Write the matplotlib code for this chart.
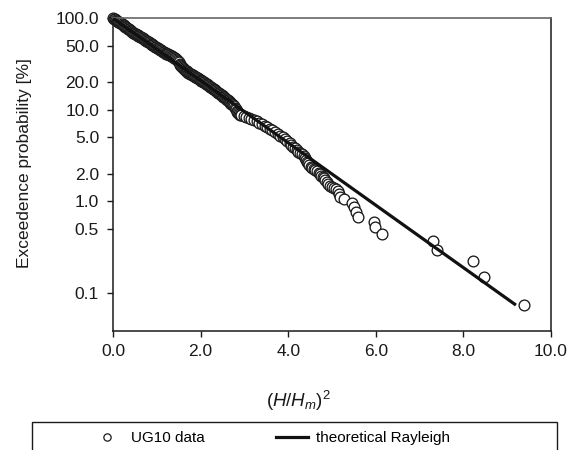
import matplotlib
matplotlib.use("Agg")
import matplotlib.pyplot as plt
from matplotlib.lines import Line2D
from matplotlib.patches import Rectangle

plt.rcParams["font.family"] = ["Liberation Sans", "DejaVu Sans"]
plt.rcParams["mathtext.fontset"] = "custom"
plt.rcParams["mathtext.rm"] = "Liberation Sans"
plt.rcParams["mathtext.it"] = "Liberation Sans:italic"

# Measured wave heights: (H/Hm)^2 against exceedance probability [%]
ug10_x = [
    0.00, 0.02, 0.04, 0.06, 0.08, 0.10, 0.12, 0.14, 0.16, 0.18, 0.20, 0.22,
    0.24, 0.26, 0.28, 0.30, 0.32, 0.34, 0.36, 0.38, 0.40, 0.42, 0.44, 0.46,
    0.48, 0.50, 0.52, 0.54, 0.56, 0.58, 0.60, 0.62, 0.64, 0.66, 0.68, 0.70,
    0.72, 0.74, 0.76, 0.78, 0.80, 0.82, 0.84, 0.86, 0.88, 0.90, 0.92, 0.94,
    0.96, 0.98, 1.00, 1.02, 1.04, 1.06, 1.08, 1.10, 1.12, 1.14, 1.16, 1.18,
    1.20, 1.22, 1.24, 1.26, 1.28, 1.30, 1.32, 1.34, 1.36, 1.38, 1.40,
    1.42, 1.44, 1.46, 1.48, 1.50, 1.52, 1.54, 1.56, 1.58, 1.60, 1.62, 1.64,
    1.66, 1.68, 1.70, 1.72, 1.74, 1.76, 1.78, 1.80, 1.82, 1.84, 1.86, 1.88,
    1.90, 1.92, 1.94, 1.96, 1.98, 2.00, 2.02, 2.04, 2.06, 2.08, 2.10, 2.12,
    2.14, 2.16, 2.18, 2.20, 2.22,
    2.24, 2.26, 2.28, 2.30, 2.32, 2.34, 2.36, 2.38, 2.40, 2.42, 2.44, 2.46,
    2.48, 2.50, 2.52, 2.54, 2.56, 2.58, 2.60, 2.62, 2.64, 2.66, 2.68, 2.70,
    2.72, 2.74, 2.76, 2.78, 2.80, 2.82, 2.84, 2.86, 2.88, 2.90, 2.93,
    2.98, 3.04, 3.10, 3.16, 3.22, 3.28, 3.34, 3.40, 3.46, 3.52, 3.58, 3.64,
    3.70, 3.76, 3.82, 3.88, 3.93, 3.98, 4.03, 4.07, 4.11, 4.15, 4.19, 4.23,
    4.27, 4.31, 4.35, 4.38, 4.40, 4.42, 4.45, 4.48, 4.51, 4.54, 4.58, 4.62,
    4.66, 4.70, 4.73, 4.76, 4.79, 4.82, 4.85, 4.88, 4.92, 4.95, 5.00, 5.05,
    5.09, 5.13, 5.16, 5.19, 5.28, 5.45, 5.50, 5.55, 5.60, 5.96, 5.99, 6.15,
    7.31, 7.40, 8.22, 8.48, 9.39,
]
ug10_p = [
    100.0, 98.3, 96.7, 95.1, 93.5, 92.0, 90.8, 89.6, 88.4, 87.2, 86.0, 84.6,
    83.1, 81.7, 80.4, 79.0, 77.8, 76.6, 75.4, 74.2, 73.0, 71.8, 70.6, 69.4,
    68.2, 67.0, 66.2, 65.4, 64.6, 63.8, 63.0, 62.2, 61.4, 60.6, 59.8, 59.0,
    58.2, 57.4, 56.6, 55.8, 55.0, 54.2, 53.4, 52.6, 51.8, 51.0, 50.2, 49.5,
    48.8, 48.1, 47.5, 46.8, 46.2, 45.5, 44.9, 44.3, 43.7, 43.1, 42.6, 42.0,
    41.5, 41.0, 40.6, 40.1, 39.7, 39.2, 38.8, 38.3, 37.9, 37.4, 37.0,
    36.3, 35.6, 34.8, 33.9, 32.9, 31.9, 31.0, 30.1, 29.3, 28.6, 27.9, 27.3,
    26.7, 26.2, 25.7, 25.3, 24.9, 24.6, 24.3, 24.0, 23.7, 23.4, 23.1, 22.8,
    22.5, 22.2, 21.9, 21.6, 21.3, 21.0, 20.7, 20.4, 20.1, 19.8, 19.5, 19.2,
    18.9, 18.6, 18.4, 18.1, 17.9,
    17.6, 17.3, 17.0, 16.8, 16.5, 16.2, 15.9, 15.7, 15.4, 15.1, 14.8, 14.6,
    14.3, 14.1, 13.8, 13.6, 13.3, 13.1, 12.8, 12.6, 12.3, 12.1, 11.8, 11.6,
    11.4, 11.2, 10.9, 10.5, 10.1, 9.8, 9.5, 9.2, 9.0, 8.85, 8.7,
    8.5, 8.3, 8.15, 8.0, 7.8, 7.5, 7.2, 6.95, 6.7, 6.45, 6.2, 5.95,
    5.7, 5.45, 5.2, 5.0, 4.75, 4.5, 4.3, 4.1, 3.95, 3.8, 3.65, 3.5,
    3.38, 3.25, 3.13, 3.0, 2.85, 2.72, 2.6, 2.5, 2.4, 2.32, 2.25, 2.19,
    2.12, 2.05, 1.98, 1.91, 1.84, 1.78, 1.71, 1.64, 1.56, 1.49, 1.44, 1.40,
    1.35, 1.29, 1.20, 1.13, 1.05, 0.955, 0.86, 0.77, 0.67, 0.60, 0.52, 0.445,
    0.373, 0.295, 0.222, 0.149, 0.074,
]

# Theoretical Rayleigh distribution (straight line on this log scale)
rayleigh_x = [0.0, 9.2]
rayleigh_p = [100.0, 0.074]

x_ticks = [0, 2, 4, 6, 8, 10]
x_tick_labels = ["0.0", "2.0", "4.0", "6.0", "8.0", "10.0"]
y_ticks = [0.1, 0.5, 1, 2, 5, 10, 20, 50, 100]
y_tick_labels = ["0.1", "0.5", "1.0", "2.0", "5.0", "10.0", "20.0", "50.0", "100.0"]

fig = plt.figure(figsize=(5.8, 4.5), dpi=100)
ax = fig.add_axes([113 / 580, 1 - 331 / 450, (551 - 113) / 580, (331 - 18) / 450])

ax.scatter(ug10_x, ug10_p, s=60, facecolors="white", edgecolors="#1a1a1a",
           linewidths=0.95, zorder=2, clip_on=False)
ax.plot(rayleigh_x, rayleigh_p, color="#111111", lw=2.3, zorder=3,
        solid_capstyle="butt")

ax.set_yscale("log")
ax.set_xlim(0, 10)
ax.set_ylim(0.0386, 100)
ax.set_xticks(x_ticks)
ax.set_xticklabels(x_tick_labels)
ax.set_yticks(y_ticks)
ax.set_yticklabels(y_tick_labels)
ax.yaxis.set_minor_locator(matplotlib.ticker.NullLocator())
ax.tick_params(axis="both", direction="out", length=4, width=1, labelsize=12.5,
               colors="#1a1a1a")
ax.tick_params(axis="y", pad=6)
ax.tick_params(axis="x", pad=5)

for side in ("left", "bottom", "right"):
    ax.spines[side].set_color("#1a1a1a")
    ax.spines[side].set_linewidth(1.1)
ax.spines["top"].set_color("#666666")
ax.spines["top"].set_linewidth(1.2)

fig.text(24.5 / 580, 1 - 163 / 450, "Exceedence probability [%]", rotation=90,
         ha="center", va="center", fontsize=12.5, color="#1a1a1a")
fig.text(298 / 580, 1 - 401 / 450, r"$\mathit{(H/H_m)^2}$", ha="center",
         va="center", fontsize=13.5, color="#1a1a1a")

# Legend frame running off the bottom edge of the figure
fig.patches.append(Rectangle((32 / 580, -0.2), (557 - 32) / 580,
                             0.2 + 1 - 422 / 450, transform=fig.transFigure,
                             facecolor="none", edgecolor="#1a1a1a", lw=1.0))

handles = [
    Line2D([], [], ls="none", marker="o", markersize=7.5, markerfacecolor="white",
           markeredgecolor="#1a1a1a", markeredgewidth=0.9),
    Line2D([], [], color="#111111", lw=2.3),
]
fig.legend(handles, ["UG10 data", "theoretical Rayleigh"], ncol=2, frameon=False,
           loc="center left", bbox_to_anchor=(91 / 580, 1 - 438 / 450),
           fontsize=11, handlelength=2.1, handletextpad=0.55, columnspacing=4.6,
           borderpad=0, borderaxespad=0, markerscale=0.7)

fig.savefig("out.png", dpi=100)
